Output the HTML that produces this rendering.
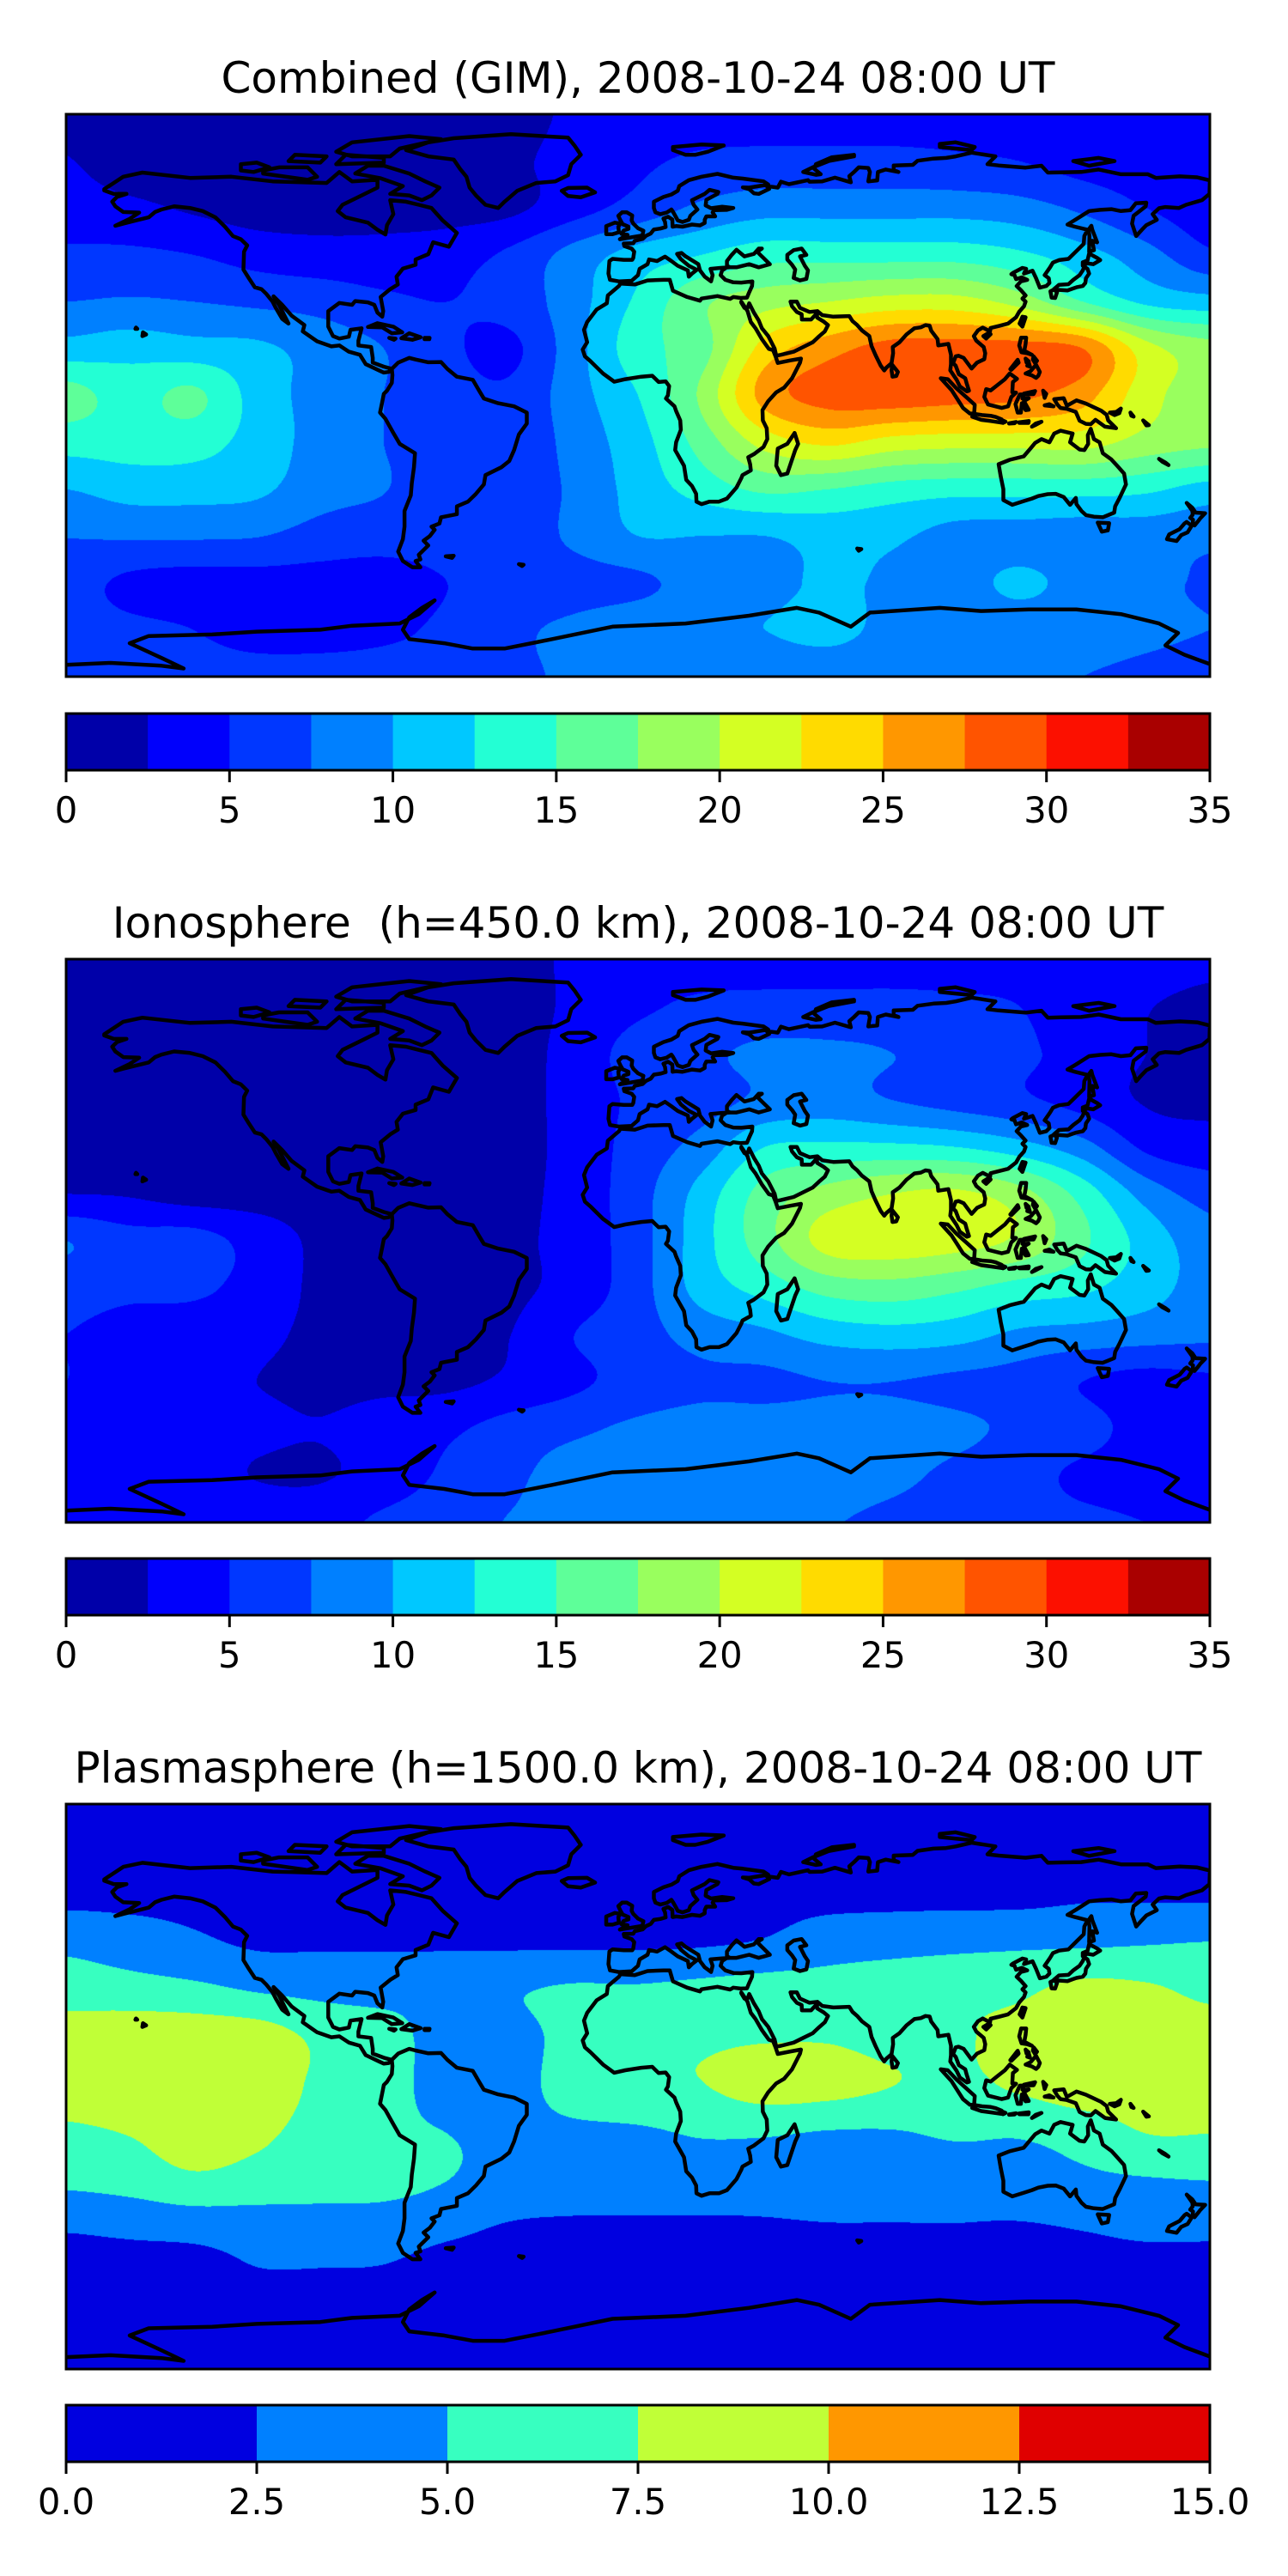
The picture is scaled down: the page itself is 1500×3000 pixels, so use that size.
<!DOCTYPE html>
<html><head><meta charset="utf-8"><style>
html,body{margin:0;padding:0;background:#fff;}
#root{position:relative;width:1500px;height:3000px;overflow:hidden;background:#fff;}
canvas{position:absolute;}
svg{position:absolute;left:0;top:0;}
text{font-family:"DejaVu Sans","Liberation Sans",sans-serif;fill:#000;}
</style></head><body>
<div id="root">
<canvas id="c0" width="1332" height="655" style="left:77px;top:133px"></canvas>
<canvas id="c1" width="1332" height="656" style="left:77px;top:1117px"></canvas>
<canvas id="c2" width="1332" height="658" style="left:77px;top:2101px"></canvas>
<svg id="ov" width="1500" height="3000" xmlns="http://www.w3.org/2000/svg"></svg>
</div>
<script>
// ---- data ----
const gridLats = [90,75,60,45,30,15,0,-15,-30,-45,-60,-75,-90];
const gridLons = [-180,-160,-140,-120,-100,-80,-60,-40,-20,0,20,40,60,80,100,120,140,160,180];
const gimGrid = [
[2,1.5,1.5,1.5,1.5,1.5,1.5,1.5,3,3.8,3.8,3.8,3.8,3.8,3.8,3.8,3.8,3.5,2.5],
[2.6,1.5,1.5,1.5,1.5,1.5,1.5,2,3.5,4.5,5.5,5.8,5.8,5.8,5.5,5,4,3.5,2.6],
[3.5,3,2.2,1.5,1.5,1.5,1.5,2,4,6,8,9,9,9,9,8.5,7,5,3.5],
[5.5,5.5,5,4,3.5,3.5,4,5.5,8.5,11,12.5,14,14,14,14,13,11,8.5,5.5],
[7.5,7.8,7.5,7,6.5,5.5,5,6,9,13,17,19,20,21,21,19,15,12,11],
[11,11.5,11,10.5,9,7.5,5.5,4.5,9,14,16.5,23.5,26.5,28.5,28.5,28.5,27.5,21,18.5],
[16,14,15.5,11.5,9,7.5,6,5.5,9,12.5,18,26,28.5,29,28.5,28,26,21,18.5],
[13.5,13.5,13.5,11.5,9,7.5,6,5.5,8.5,11.5,16,21,23,21.5,21,21,21,19,18],
[10,11,11,10.5,8.5,7.6,6,6,8,11,13.5,15.5,15,14,13.5,13.5,13.5,13,11.5],
[7.6,7.8,7.8,7.6,6.5,6,6,6,8,10,10,10,11,10.5,9,9,8.5,8.5,8],
[6,4.5,4,4,4,4,5,6,6.5,7,8.5,9,10.5,9.5,9,10.5,9,8,7.3],
[6,5.5,5,4,4,4.5,5.5,7,8,9,9.5,10,11,9,8.5,8.5,8.5,8,7.5],
[6,6,6,6,6,6,6,7,7.8,7.8,7.8,7.8,7.8,7.8,7.8,7.8,7.5,7,6.5]];
const ionoGrid = [
[1.5,1.5,1.5,1.5,1.5,1.5,1.5,1.5,3,3.8,3.8,3.8,3.8,3.8,3.8,3.8,3.8,3.5,3],
[1.5,1.5,1.5,1.5,1.5,1.5,1.5,1.5,3,4.5,5.5,5.8,5.8,5.8,5.5,5,3.5,2.6,2],
[1.5,1.5,1.5,1.5,1.5,1.5,1.5,1.5,3.5,6,7,8,8,7.5,6.5,5.5,4,2.5,2],
[2.5,2,1.5,1.5,1.5,1.5,1.5,1.5,3.5,5.5,6.5,8,8.5,7.5,6.5,5.5,4,2.3,2],
[1.5,1.5,1.5,1.5,1.5,1.5,1.5,1.5,3.5,6,8.5,12.5,13,13,12.5,11,8.5,4.5,3.5],
[2.5,2.3,1.5,1.5,1.5,1.5,1.5,1.8,3.5,6.5,11,16,18.5,20,20.5,18.5,14,9,6.5],
[7.5,6,6,4,2,1.5,1.5,2,3.5,6.5,11.5,16.5,21,21.5,21,19.5,15.5,11.5,8.5],
[6,5.5,5.5,4,2,1.5,1.5,2,3.5,6.5,11,13.5,16,16.5,15.5,14,13,11,9],
[5,4,3.5,3,2,1.5,1.5,2.5,5,6.5,8.5,9.5,11,11.5,11,9.5,9,8.5,8],
[5,3.5,3,2.5,2,2,2,3,4.5,6,7,7,7.5,7.5,7,6.5,5,4,4.5],
[4,3.5,3.5,3,2.6,3.5,4.5,6,7,8,8.5,8.5,8.5,8.5,8,7,6,4,4],
[3,3,3.5,2.4,2.3,3.5,5.5,7,8.5,9,9.5,9,8.5,8,7,6,4.5,4,4],
[4,4,4,4,4,5.5,6.5,7.6,7.6,7.6,7.6,7.6,7.6,7,6.5,6,5.5,5,5]];
const plasmaGrid = [
[1,1,1,1,1,1,1,1,1,1,1,1,1,1,1,1,1,1,1],
[1.5,1.5,1.5,1.5,1.5,1.5,1.5,1.5,1.5,1.5,1.5,1.5,1.5,1.5,1.5,1.5,1.5,1.5,1.5],
[2,2,2,2,2,2,2,2,2,2,2,2,2,2,2,2,2.3,2.3,2.3],
[4.5,3.8,3,2.3,2.3,2.3,2.3,2.3,2.3,2.3,2.4,2.8,3.8,4.2,4.5,4.7,4.8,5,5.2],
[6.5,6.2,5.8,5,4.5,4.3,4.5,4.8,5.5,5.5,6,6.5,6.5,6.8,7,7.2,8.3,8,7],
[8.8,9.3,9.3,9,7,6,4,4,6,7,7.2,7.4,7.4,7,7.3,8,8.5,8.8,8.8],
[8.8,9.3,9.3,9,7,6,4,4.2,6,7,7.4,8.5,8.3,7.5,7,7.8,8.8,8.8,8.5],
[7,7.6,8.7,8,6.5,5.5,5,4.5,4.5,4.6,5.2,5.2,4.8,4.8,5.3,5.2,6,7.5,7.5],
[5.5,6,7,6.5,6,5.8,5,4,3.5,3.5,3.5,3.3,3.3,3.3,3.5,4,4.5,4.8,5],
[2.7,3,3.3,3.6,3.8,3.7,3,2.3,2.2,2.2,2.2,2.3,2.4,2.4,2.4,2.3,2.6,3,3],
[1.5,1.5,1.5,2.3,2.3,2.2,1.5,1.5,1.5,1.5,1.5,1.5,1.5,1.5,1.5,1.5,1.5,1.5,1.5],
[1,1,1,1,1,1,1,1,1,1,1,1,1,1,1,1,1,1,1],
[0.8,0.8,0.8,0.8,0.8,0.8,0.8,0.8,0.8,0.8,0.8,0.8,0.8,0.8,0.8,0.8,0.8,0.8,0.8]];
const levelsTec = [0,2.5,5,7.5,10,12.5,15,17.5,20,22.5,25,27.5,30,32.5,35];
const levelsPlasma = [0,2.5,5,7.5,10,12.5,15];
const ticksTec = ["0","5","10","15","20","25","30","35"];
const ticksPlasma = ["0.0","2.5","5.0","7.5","10.0","12.5","15.0"];
const titles = ["Combined (GIM), 2008-10-24 08:00 UT","Ionosphere\u00a0\u00a0(h=450.0 km), 2008-10-24 08:00 UT","Plasmasphere (h=1500.0 km), 2008-10-24 08:00 UT"];

// coastlines [lon,lat]
const coasts = [
[[-168,66],[-162,70],[-156,71.3],[-141,69.6],[-128,70],[-115,68.5],[-108,68.3],[-98,68],[-94,71.5],[-90,68.5],[-82,69],[-82,66.5],[-87,64],[-93,61],[-94.5,59],[-92,57],[-85,55.3],[-82,53],[-79.5,51.5],[-79,54.5],[-77,58],[-78,62.5],[-73,62],[-69,61],[-65,60],[-61.5,56],[-57,52],[-59.5,47.6],[-64.5,49],[-66,45.2],[-70,43.5],[-70,41.8],[-74,40.6],[-76,38],[-75.6,35.5],[-78,34],[-81,31.5],[-80.2,27],[-80.5,25.2],[-82,26.5],[-83,29],[-85,29.8],[-89,30.2],[-90,29],[-94,29.6],[-97.5,27],[-97.5,22],[-96,19],[-94,18.2],[-91,18.8],[-90.5,21],[-87,21.5],[-88,17.5],[-88,16],[-84,15.5],[-83.5,12],[-83.5,10.5],[-80,9.2],[-77.5,8.5],[-78.5,7.5],[-80,7.3],[-81.5,8],[-85.7,10],[-87.5,13],[-91,14],[-94,16],[-96.5,15.7],[-101,17.3],[-105.5,20.5],[-105,22.5],[-109,25.5],[-112,29],[-114.7,31.7],[-113,29],[-112,27],[-110,23],[-112,24.5],[-114,28],[-115,30],[-117,32.5],[-118.5,34],[-120.6,34.6],[-122.5,37.5],[-124.2,40.3],[-124,46],[-123,48],[-125,50],[-127.5,51],[-130,54],[-133,57],[-137,59],[-141,60],[-146,60.5],[-150,59.5],[-152,58.7],[-154,57],[-158,56],[-162,55],[-164.5,54.3],[-160,56.5],[-157,58.5],[-162,58.7],[-164.5,60.5],[-165.5,62],[-164,63.5],[-161,64.5],[-165,64.5],[-168,65.6],[-168,66]],
[[-80,73.5],[-72,71],[-67,68.5],[-62.5,66.5],[-65,64],[-68,62.5],[-72,64],[-78,64.5],[-74,67],[-81,69.5],[-89,71],[-85,73.5],[-80,73.5]],
[[-118,71],[-104,69],[-101,70],[-104,73],[-113,73],[-118,72],[-118,71]],
[[-90,76.5],[-78,76.5],[-75,79],[-62,82],[-72,83],[-90,81],[-95,78],[-90,76.5]],
[[-125,72],[-121,71.5],[-116,73],[-120,74.5],[-125,74],[-125,72]],
[[-95,74],[-80,74.5],[-80,76],[-92,77],[-95,74]],
[[-110,75],[-100,74.5],[-98,76.5],[-108,77],[-110,75]],
[[-73,78.5],[-66,81],[-58,82.3],[-40,83.6],[-22,82.5],[-20,80],[-18,77],[-21,74],[-22,70.5],[-26,68.5],[-32,68],[-38,65.5],[-42,62],[-44,60],[-48,61],[-51,64],[-53,66.5],[-54,70],[-56,72.5],[-58,75.5],[-66,76.5],[-73,78.5]],
[[-24,65.5],[-22,66.4],[-16,66.5],[-13.5,65],[-18,63.4],[-22,63.8],[-24,65.5]],
[[-85,21.9],[-82,23.1],[-77,22],[-74.2,20.2],[-77.5,19.9],[-80.5,21.8],[-85,21.9]],
[[-74.5,18.3],[-72,19.9],[-68.4,18.6],[-71,17.8],[-74.5,18.3]],
[[-67.2,18.4],[-65.6,18.4],[-65.7,18],[-67.2,18],[-67.2,18.4]],
[[-78.3,18.4],[-76.3,18.2],[-76.8,17.8],[-78.3,18.4]],
[[-156,19],[-154.8,19.5],[-155.8,20.2],[-156,19]],
[[-158,21.7],[-157.6,21.3],[-158.2,21.3],[-158,21.7]],
[[-77.5,8.5],[-75.5,10.5],[-72,12],[-70,11.5],[-66,10.6],[-62,10.7],[-60,8.5],[-57,6],[-52,5],[-50,1.5],[-48.5,-1],[-44,-2.5],[-39,-3.5],[-35,-5.5],[-35,-9],[-37.5,-12.5],[-39,-17.5],[-40.5,-21],[-43,-23],[-48,-25.5],[-48.5,-28.5],[-51,-31.5],[-53.5,-34],[-57,-35.5],[-57,-38],[-62,-39],[-62.5,-41],[-65,-42],[-64,-43],[-65.5,-45],[-67.5,-46.5],[-66,-48],[-69,-51],[-68.5,-52.5],[-70,-53],[-68.5,-55],[-71,-55],[-74,-53],[-75.5,-50],[-74,-46],[-73.5,-42],[-73.5,-37],[-71.5,-32],[-71.2,-28],[-70.5,-23],[-70.2,-18.5],[-75,-15.5],[-77,-12],[-79.5,-7.5],[-81.2,-5.5],[-80.5,-2],[-80,0.5],[-79,1.5],[-77.5,4],[-77.3,6.5],[-77.5,8.5]],
[[-60.5,-51.5],[-58,-51.3],[-58.5,-52],[-60.5,-51.5]],
[[-9,43],[-9.3,39],[-8.8,37],[-6,36.5],[-2,36.7],[0,38.5],[0.5,40.5],[3,42],[3.5,43.5],[6,43],[8.5,44.4],[10.5,43],[12.5,41.5],[15.7,40],[16,38],[17,39],[18.5,40.2],[16,41.5],[13.5,43.6],[12.3,45.3],[13.7,45.6],[15,44.5],[19,42],[19.5,40],[21,38],[23,36.5],[23.5,38.5],[22.8,40.5],[26,40.8],[29,41],[28,41.5],[28,43],[29.5,45],[31,46.6],[33.5,44.5],[36.5,45.3],[38,47],[39,47],[37.5,46],[38.5,45],[41.5,42],[38,41],[35,42],[31,41],[28,41],[26.5,40],[26,38.5],[27.5,37],[30,36.2],[32.5,36.1],[36,36.5],[35.9,35],[35,33],[34.3,31.3],[32.3,31.2],[30,31.5],[29,30.9],[25,31.8],[20,31],[19.5,30.3],[15.5,31.5],[11,33.5],[10,37],[8,37],[3,36.8],[-1,35.5],[-5.5,35.8],[-6,35],[-9.5,32],[-9.8,29.5],[-13,27.5],[-16,23.5],[-17,21],[-16,17],[-17.4,14.7],[-16.7,12.5],[-15,11],[-13.3,9.3],[-11,7],[-7.5,4.4],[-4,5.2],[1,6],[4.5,6.3],[6.5,4.3],[8.7,4.5],[9.8,3],[9.4,0],[8.8,-1],[11.5,-3.5],[12,-5],[13.3,-8],[13.5,-11],[12,-15],[11.7,-17.5],[14.5,-22.5],[15.2,-27],[17,-29],[18.3,-31.5],[18.4,-34],[20,-34.8],[22.5,-34],[25.5,-34],[28,-33],[31,-29.5],[32.5,-26.5],[32.9,-25.5],[35.5,-24],[35.3,-22],[34.7,-19.8],[36.5,-18.8],[39.5,-16.5],[40.7,-14],[40.5,-10.5],[39.3,-8],[39.2,-4.7],[41,-1.8],[43.5,1],[46,2.5],[48.5,5.5],[51,10.5],[51.3,11.8],[48,11.2],[44,10.4],[43.3,12.5],[42.5,14.5],[41.2,14.9],[39,18],[37,21.5],[35.5,23.5],[34.5,27],[32.5,30],[32.5,29.7],[33.5,28],[34.5,28],[35,29.5],[36.5,26.5],[38,24],[39,21.5],[41,19],[43,15],[43.5,12.7],[45,13],[49,14],[52,15.5],[55,17],[57,18.9],[58.8,20.5],[59.8,22.5],[58.5,23.6],[56.4,24.9],[56.3,26.3],[54.5,24.3],[51.6,24.3],[51.5,26],[50,26.7],[48.5,28.5],[48,30],[50,30],[51,28],[54,26.7],[56.5,27],[58,25.7],[61.5,25.2],[66.5,25.4],[67.5,23.8],[69,22.5],[70.5,20.8],[72.8,19],[73.5,15.8],[74.8,12.8],[76.4,9.5],[77.5,8],[78.2,8.9],[79.8,10.3],[80.3,13.5],[80.2,15.5],[82.3,17],[84.5,19.5],[87,21.5],[89,21.8],[90.5,22.5],[91.8,22.3],[92.3,20.7],[94.3,18],[94.5,16],[97.7,16.5],[98.5,13],[98.5,10],[98.3,8],[100.3,5],[101.3,2.9],[103.5,1.3],[104.2,1.5],[103.4,4],[103,5.5],[101,6.8],[100,9.5],[99.2,10.3],[100,12.5],[100.9,12.7],[102.5,12],[105,8.6],[106.7,10.5],[109,11.6],[109.3,13.5],[108.8,15.5],[106.5,17.5],[105.7,19],[107,20.8],[108.5,21.7],[110.8,20.5],[111,21.6],[113.8,22.3],[116.5,23],[119,25],[120,26.8],[121.5,28.5],[122,30],[121,31],[122,32],[120.5,33.7],[119.2,35],[120.5,36.5],[122.5,37],[120.8,37.8],[119,37.2],[118.5,38.5],[117.5,38.8],[118,39.2],[121,40.8],[122.2,40.5],[121.5,39],[124.2,39.9],[125.3,37.5],[126.5,34.5],[128.5,35],[129.5,36],[129.3,37.5],[128,38.5],[129.7,41],[130.6,42.5],[132.5,43.3],[135.5,43.7],[138.3,46.5],[140.3,48.5],[140.5,51],[141.5,53],[137.5,54],[135.2,54.7],[137.8,56.3],[142,59],[145.5,59.4],[149,59.6],[152,59],[155,59.3],[156.7,61.5],[160,61.7],[159.8,60.5],[156,57.5],[155.5,55],[156.8,51],[158.6,53],[160,54.5],[163.3,56.2],[162,58],[164,59.9],[166,60.3],[170.3,60],[172.5,61],[177.5,62.5],[179.9,64.5],[180,68.8],[176,69.8],[170.5,70.1],[163,69.6],[160.5,70.8],[152,70.8],[145,72.3],[139.5,71.5],[133,71.4],[129,71.3],[127,73.5],[122,72.9],[113.5,73.6],[110,74],[112.5,76.5],[105,77.7],[100,76.5],[97,76],[93,75.8],[88,75.1],[86.5,73.8],[80.5,73.6],[80.5,72.1],[82,71.5],[78,72.3],[75.5,71.5],[75.3,68.8],[72.5,68.5],[73,71.5],[72.5,72.8],[69.5,73],[68,71.5],[66.5,70.2],[67,68.2],[62,69.7],[58,68.5],[54,68.4],[53.5,68.9],[47.5,67.6],[45,68.4],[44,66.5],[40.5,67],[41.3,66.1],[38,64.5],[36.5,64.7],[35,66],[33,66.6],[35,66.5],[41,67.5],[39.5,68.5],[33,69.4],[30,69.7],[25,70.9],[20,70],[16,68.9],[13,67],[12.5,65.5],[10.5,64.3],[8,63.5],[5,62],[5,60],[5.5,58.6],[7,58],[9,58.5],[10.5,59.5],[11,58.8],[12,57],[12.5,56],[14,55.5],[16,56.2],[16.5,57.5],[18.7,59.5],[17.5,61],[17,62.5],[21,64.5],[22.5,65.8],[25.3,65.1],[25,64.5],[21.5,62.6],[21.3,60.8],[23,59.9],[26.5,60.4],[30,60],[28,59.4],[24,59.3],[23.5,58.6],[24.3,57.3],[21.5,57.3],[21,56.2],[21,55.2],[19.5,54.4],[17,54.7],[14,54],[12,54.2],[10.9,54],[10.8,56.3],[9.5,57.2],[8,56.6],[8.5,55.5],[8.7,53.9],[7,53.4],[5,53.1],[4,51.8],[2.5,51.1],[1.5,50.1],[-1,49.5],[-1.5,48.7],[-4.5,48.6],[-4.3,47.8],[-2,47],[-1.2,46],[-1.5,44],[-1.8,43.4],[-4.5,43.4],[-8,43.7],[-9,43]],
[[47,45],[49,46.5],[51.5,47],[53,45],[51,44.5],[52.5,41.5],[53.5,40],[53,37.3],[51,36.8],[49,37.6],[49.5,40.3],[48.5,41.8],[47,43.5],[47,45]],
[[-5.7,50],[1.4,51.2],[1.7,52.7],[0,53.5],[-1.5,55],[-2,56],[-1.8,57.6],[-3.5,58.6],[-5,58.6],[-6.2,57.5],[-5.5,56],[-4.8,54.8],[-3,54],[-3,53.3],[-4.5,52.8],[-5.2,51.7],[-3.3,51.4],[-5.7,50]],
[[-6,52.2],[-6.2,54],[-5.6,55],[-7.3,55.3],[-10,54.2],[-10,51.6],[-8,51.6],[-6,52.2]],
[[52,71.5],[56,70.6],[57.5,70.8],[55.5,72.5],[56,74],[61,76.2],[68,77],[68,76.5],[60,75],[55,73],[52,71.5]],
[[11,78.5],[15,77],[18,77],[22,78],[27,80],[20,80.3],[11,79.5],[11,78.5]],
[[95,79.5],[100,79],[105,78.5],[106,79.5],[100,81],[95,80.5],[95,79.5]],
[[137,75],[142,73.5],[150,75],[145,76],[137,75]],
[[130.9,34],[132.5,35.4],[135.5,35.6],[137,37],[139,38.5],[140,40],[140.5,41.2],[141.5,40.5],[142,39],[141,37.5],[140.8,36],[140,35],[138,34.6],[136.8,34.2],[135.2,33.6],[132,33.8],[130.9,34]],
[[129.8,33.3],[131,33.9],[131.9,33],[131.3,31.2],[130.2,31.3],[129.8,33.3]],
[[140,41.5],[141.4,42.3],[143.3,42],[145.5,43.3],[144.5,44],[142,45.4],[141.5,43.2],[140,42.6],[140,41.5]],
[[142,46],[143.5,46.5],[143,49.5],[144.5,49],[143,53],[142.7,54.3],[141.8,53],[142.1,51],[142,46]],
[[120.1,23],[121,25.2],[122,25],[121,22],[120.1,23]],
[[108.7,19],[110.5,20.1],[111,19.6],[109.6,18.2],[108.7,19]],
[[79.8,8],[80,9.8],[81.8,7.5],[81.3,6.2],[80.1,6],[79.8,8]],
[[120.6,18.5],[122.2,18.5],[122,16.5],[121.6,14.3],[124,13],[122.5,13.5],[120.7,13.8],[120,16],[120.6,18.5]],
[[122,7],[123.6,7.8],[125.3,9.8],[126.5,7.5],[126,6.3],[125.3,5.6],[124,6.4],[122,7]],
[[124.5,12.5],[125.6,11.1],[125,10.3],[124.3,11.5],[124.5,12.5]],
[[122,11.8],[123,10.9],[122.3,10.5],[122,11.8]],
[[123,10.5],[123.4,9.2],[122.5,9.5],[123,10.5]],
[[117.2,8.4],[119.5,11.4],[119.8,10.5],[117.5,8.2],[117.2,8.4]],
[[109.6,2],[111,1.6],[113,3.2],[115.5,5.2],[117,7],[119.3,5.3],[118,4.3],[117.8,1],[119,0.9],[117.5,-0.5],[116.5,-3.5],[114.5,-4],[110.2,-2.9],[109,-0.5],[109.6,2]],
[[95.3,5.5],[97.5,5.2],[100.3,2.2],[103.8,-1],[106,-3],[105.8,-5.8],[104.5,-5.8],[102.3,-4],[100.4,-1],[98.7,1.7],[95.3,5.5]],
[[105.2,-6.8],[106.5,-6],[108.3,-6.3],[111,-6.5],[112.6,-6.9],[114.5,-7.7],[114.4,-8.7],[111,-8.2],[108,-7.8],[105.2,-6.8]],
[[114.9,-8.8],[115.7,-8.4],[115,-8.1],[114.9,-8.8]],
[[116.8,-8.9],[119,-8.5],[118.5,-8.9],[116.8,-9]],
[[119.9,-8.6],[123,-8.2],[122.9,-8.8],[120,-8.8],[119.9,-8.6]],
[[124,-10],[125.2,-9],[127,-8.4],[125,-9.5],[124,-10]],
[[119.5,-5.5],[120.5,-5.5],[120.8,-2.5],[122,-4.7],[123,-4.6],[121.5,-1.8],[123,-0.9],[121,-1],[121.5,0.6],[125,1.4],[124.5,0.4],[120.2,0.3],[119.8,-0.5],[118.8,-2.8],[119.5,-5.5]],
[[127.5,1.5],[128.5,0.5],[128,-0.8],[127.5,1.5]],
[[128,-3.2],[130.8,-3.5],[129.5,-2.8],[128,-3.2]],
[[131,-1.2],[134,-0.9],[135,-3.3],[138,-1.6],[141,-2.6],[145.8,-4.9],[147.5,-6.2],[148,-8],[150.5,-10.5],[147,-10],[144,-7.8],[142.5,-9.2],[141,-9.1],[139,-8.1],[137.8,-5.3],[135,-4.3],[133,-4],[132,-2.9],[131,-1.2]],
[[148.5,-5.5],[150.5,-5.3],[152,-4.2],[151.5,-5.7],[150,-6.3],[148.5,-5.5]],
[[155,-5.5],[156,-6.8],[155.3,-6.5],[155,-5.5]],
[[159,-8],[160.8,-9.5],[160,-9.6],[159,-8]],
[[113.5,-22],[114.2,-26],[115,-30],[115,-33.5],[117.8,-35],[121.5,-33.8],[124,-33],[126,-32.2],[129,-31.6],[131.5,-31.5],[134,-32.5],[136,-35],[137.8,-32.8],[138,-34.8],[139.6,-37],[141,-38.3],[143.5,-38.8],[146.3,-39],[149.9,-37.5],[150.2,-35.5],[151.5,-33],[153.6,-28.5],[153,-25],[150.8,-22.5],[149,-20.5],[146.3,-18.5],[145.3,-15],[143.5,-14],[142.5,-10.7],[141.6,-12.7],[141.7,-15.5],[140.5,-17.5],[139,-17.3],[136,-15],[136.8,-12.2],[133,-11.3],[131,-12.2],[129.5,-15],[127,-14],[125,-15.2],[123.5,-17],[121.4,-19.5],[117,-20.6],[113.5,-22]],
[[144.7,-40.7],[148.3,-40.9],[147.9,-43.2],[146,-43.6],[144.7,-40.7]],
[[172.7,-34.4],[174.5,-36],[175.5,-37.5],[178.5,-37.7],[177,-39.3],[176.5,-40],[175.2,-41.6],[174.6,-41.2],[174.7,-39.8],[173.8,-39.2],[174.6,-38.2],[174.5,-37],[172.7,-34.4]],
[[172.7,-40.5],[174.3,-41.7],[173,-43.8],[171,-44.7],[169.5,-46.6],[166.5,-46],[167.2,-44.5],[170.5,-42.8],[172,-41],[172.7,-40.5]],
[[164,-20.3],[166,-21.5],[167,-22.3],[165,-21.2],[164,-20.3]],
[[49.3,-12],[50.4,-15.5],[49.5,-17.5],[47,-25],[45,-25.5],[43.5,-22.5],[44,-17],[47,-15.5],[49.3,-12]],
[[69,-49],[70.3,-49.2],[69.5,-49.7],[69,-49]],
[[-37.5,-54],[-36,-54.2],[-36.5,-54.6],[-37.5,-54]],
[[-180,-86.2],[-166,-85.6],[-150,-86.5],[-143,-87.4],[-150,-84],[-160,-79.3],[-154,-77],[-134,-76.5],[-120,-75.6],[-100,-75],[-90,-73.7],[-75,-73],[-69,-70],[-64,-65.6],[-68,-68],[-72,-71],[-74,-75],[-72,-78],[-61,-79.3],[-52,-81],[-42,-81],[-32,-79],[-27,-78],[-8,-74],[15,-73],[35,-70.5],[50,-68],[57,-69.5],[67,-74],[73,-69.5],[95,-68],[108,-69],[123,-68.5],[138,-68.5],[152,-70],[164,-73],[170,-76],[166,-80],[172,-83],[180,-86]]
];

// ---- layout ----
const X0 = 77, W = 1332;
const panels = [
 {grid: gimGrid, levels: levelsTec, ticks: ticksTec, top: 133, h: 655, cb: 831, title: 108, canvas: 'c0', key: 'gim'},
 {grid: ionoGrid, levels: levelsTec, ticks: ticksTec, top: 1117, h: 656, cb: 1815, title: 1092, canvas: 'c1', key: 'ionosphere'},
 {grid: plasmaGrid, levels: levelsPlasma, ticks: ticksPlasma, top: 2101, h: 658, cb: 2801, title: 2076, canvas: 'c2', key: 'plasmasphere'}
];
const CBH = 66;

const jetR = [[0,0],[0.35,0],[0.66,1],[0.89,1],[1,0.5]];
const jetG = [[0,0],[0.125,0],[0.375,1],[0.64,1],[0.91,0],[1,0]];
const jetB = [[0,0.5],[0.11,1],[0.34,1],[0.65,0],[1,0]];
function seg(s,x){
  for(let i=0;i<s.length-1;i++){
    if(x>=s[i][0] && x<=s[i+1][0]){
      const t=(x-s[i][0])/(s[i+1][0]-s[i][0]);
      return s[i][1]+t*(s[i+1][1]-s[i][1]);
    }
  }
  return s[s.length-1][1];
}
function jet(x){ return [seg(jetR,x),seg(jetG,x),seg(jetB,x)].map(v=>Math.round(v*255)); }
function levelColors(levels){
  const n = levels.length-1, out=[];
  for(let k=0;k<n;k++) out.push(jet((k+0.5)/n));
  return out;
}
function cr(p0,p1,p2,p3,t){
  return 0.5*((2*p1)+(-p0+p2)*t+(2*p0-5*p1+4*p2-p3)*t*t+(-p0+3*p1-3*p2+p3)*t*t*t);
}
function sample(grid, lon, lat){
  const nr = gridLats.length, nc = gridLons.length;
  const fr = (gridLats[0]-lat)/(gridLats[0]-gridLats[1]);
  const fc = (lon-gridLons[0])/(gridLons[1]-gridLons[0]);
  let r = Math.min(nr-2, Math.max(0, Math.floor(fr))), c = Math.min(nc-2, Math.max(0, Math.floor(fc)));
  const tr = fr-r, tc = fc-c;
  const rows=[];
  for(let i=-1;i<=2;i++){
    const ri = Math.min(nr-1, Math.max(0, r+i));
    const g = grid[ri];
    const v=[];
    for(let j=-1;j<=2;j++){v.push(g[Math.min(nc-1, Math.max(0, c+j))]);}
    rows.push(cr(v[0],v[1],v[2],v[3],tc));
  }
  return cr(rows[0],rows[1],rows[2],rows[3],tr);
}
function drawField(p){
  const cv = document.getElementById(p.canvas);
  const ctx = cv.getContext('2d');
  const w = cv.width, h = cv.height;
  const img = ctx.createImageData(w,h);
  const cols = levelColors(p.levels);
  const lo = p.levels[0], step = p.levels[1]-p.levels[0], n = cols.length;
  for(let y=0;y<h;y++){
    const lat = 90 - (y+0.5)/h*180;
    for(let x=0;x<w;x++){
      const lon = -180 + (x+0.5)/w*360;
      const v = sample(p.grid, lon, lat);
      let k = Math.floor((v-lo)/step); if(k<0)k=0; if(k>n-1)k=n-1;
      const c = cols[k], i=(y*w+x)*4;
      img.data[i]=c[0]; img.data[i+1]=c[1]; img.data[i+2]=c[2]; img.data[i+3]=255;
    }
  }
  ctx.putImageData(img,0,0);
}

const NS = 'http://www.w3.org/2000/svg';
const svg = document.getElementById('ov');
function mk(tag, attrs, parent){
  const e = document.createElementNS(NS, tag);
  for(const k in attrs) e.setAttribute(k, attrs[k]);
  (parent||svg).appendChild(e);
  return e;
}
const defs = mk('defs', {});

panels.forEach((p, pi)=>{
  drawField(p);
  const projX = lon => X0 + (lon+180)/360*W;
  const projY = lat => p.top + (90-lat)/180*p.h;
  const t = mk('text', {x: X0+W/2, y: p.title, 'text-anchor':'middle', 'font-size':'50'});
  
  
  t.textContent = titles[pi];
  const cp = mk('clipPath', {id: 'clip'+pi}, defs);
  mk('rect', {x: X0, y: p.top, width: W, height: p.h}, cp);
  const g = mk('g', {'clip-path': 'url(#clip'+pi+')', fill:'none', stroke:'#000', 'stroke-width':'4.5', 'stroke-linejoin':'round', 'stroke-linecap':'round'});
  
  
  coasts.forEach(poly=>{
    const d = poly.map((pt,i)=>(i?'L':'M')+projX(pt[0]).toFixed(1)+' '+projY(pt[1]).toFixed(1)).join(' ');
    const path = mk('path', {d: d}, g);
    
    
  });
  const frame = mk('rect', {x: X0, y: p.top, width: W, height: p.h, fill:'none', stroke:'#000', 'stroke-width':'3'});
  
  
  const cols = levelColors(p.levels);
  const n = cols.length;
  const cbg = mk('g', {});
  
  
  const lo = p.levels[0], hi = p.levels[p.levels.length-1];
  const cbX = v => X0 + (v-lo)/(hi-lo)*W;
  for(let k=0;k<n;k++){
    const x1 = cbX(p.levels[k]), x2 = cbX(p.levels[k+1]);
    const r = mk('rect', {x: x1, y: p.cb, width: x2-x1+0.6, height: CBH, fill: 'rgb('+cols[k].join(',')+')'}, cbg);
    
    
  }
  mk('rect', {x: X0, y: p.cb, width: W, height: CBH, fill:'none', stroke:'#000', 'stroke-width':'3'}, cbg);
  p.ticks.forEach((lab)=>{
    const v = parseFloat(lab);
    const x = cbX(v);
    const tk = mk('line', {x1:x, x2:x, y1:p.cb+CBH, y2:p.cb+CBH+14, stroke:'#000', 'stroke-width':'3'}, cbg);
    
    
    const tl = mk('text', {x:x, y:p.cb+CBH+61, 'text-anchor':'middle', 'font-size':'41.7'}, cbg);
    
    
    tl.textContent = lab;
  });
});
</script>
</body></html>
